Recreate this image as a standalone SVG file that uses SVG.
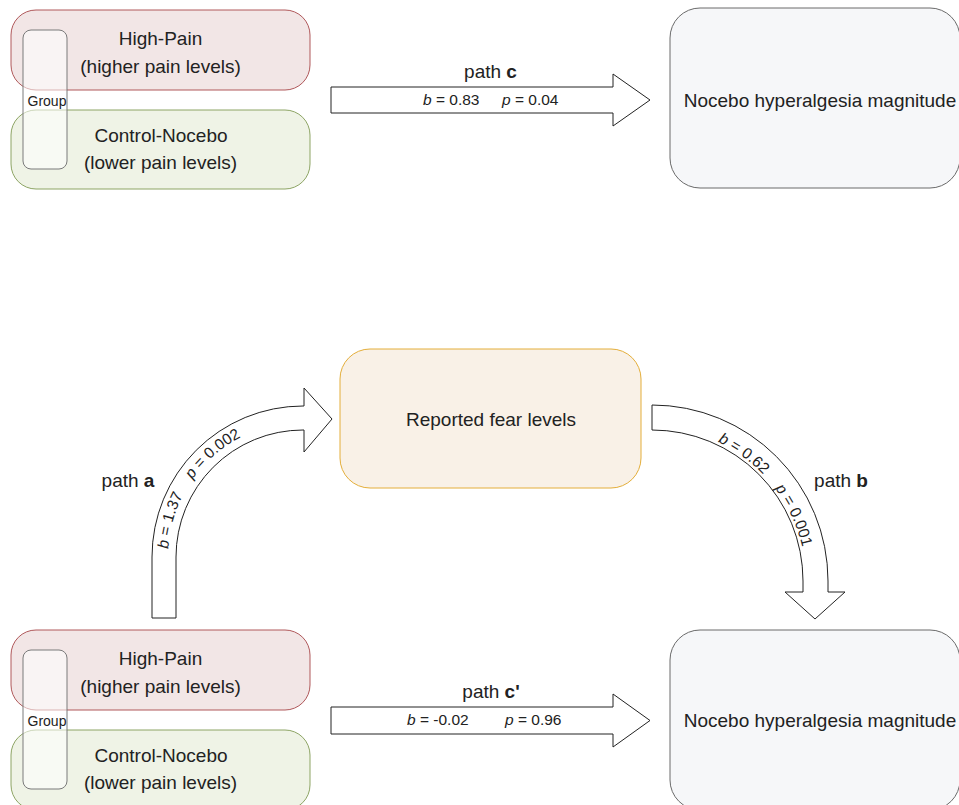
<svg xmlns="http://www.w3.org/2000/svg" width="959" height="805" viewBox="0 0 959 805">
<style>
text{font-family:"Liberation Sans",Arial,sans-serif;fill:#222}
.lbl{font-size:19px;text-anchor:middle}
.sm{font-size:15.5px}
.grp{font-size:14px;text-anchor:middle}
.hp{fill:#f2e6e6;stroke:#b0585a;stroke-width:1}
.cn{fill:#eff3e6;stroke:#8da464;stroke-width:1}
.gb{fill:#ffffff;fill-opacity:0.55;stroke:#7a7a7a;stroke-width:1}
.nh{fill:#f6f7f9;stroke:#6a6a6a;stroke-width:1}
.rf{fill:#f9f1e7;stroke:#e4ae3a;stroke-width:1}
.arr{fill:#ffffff;stroke:#222;stroke-width:1}
.i{font-style:italic}
.b{font-weight:bold}
</style>
<defs>
<path id="arcA" d="M168,557 A135,135 0 0 1 303,422"/>
<path id="arcB" d="M652,427 A154,154 0 0 1 806,581"/>
</defs>

<g id="highpain1">
<rect class="hp" x="11" y="10" width="299" height="80" rx="25"/>
<text class="lbl" x="160.5" y="45">High-Pain</text>
<text class="lbl" x="160.5" y="73">(higher pain levels)</text>
</g>
<g id="control1">
<rect class="cn" x="11" y="110" width="299" height="79" rx="25"/>
<text class="lbl" x="161" y="142">Control-Nocebo</text>
<text class="lbl" x="160.5" y="169">(lower pain levels)</text>
</g>
<g id="group1">
<rect class="gb" x="23" y="30" width="44" height="139" rx="8"/>
<text class="grp" x="47" y="106">Group</text>
</g>
<g id="nocebo1">
<rect class="nh" x="670" y="8" width="290" height="180" rx="30"/>
<text class="lbl" x="820" y="107">Nocebo hyperalgesia magnitude</text>
</g>

<g id="fear">
<rect class="rf" x="340" y="349" width="301" height="139" rx="30"/>
<text class="lbl" x="491" y="426">Reported fear levels</text>
</g>

<g id="highpain2">
<rect class="hp" x="11" y="630" width="299" height="80" rx="25"/>
<text class="lbl" x="160.5" y="665">High-Pain</text>
<text class="lbl" x="160.5" y="693">(higher pain levels)</text>
</g>
<g id="control2">
<rect class="cn" x="11" y="730" width="299" height="80" rx="25"/>
<text class="lbl" x="161" y="762">Control-Nocebo</text>
<text class="lbl" x="160.5" y="789">(lower pain levels)</text>
</g>
<g id="group2">
<rect class="gb" x="23" y="650" width="44" height="139" rx="8"/>
<text class="grp" x="47" y="726">Group</text>
</g>
<g id="nocebo2">
<rect class="nh" x="670" y="630" width="290" height="180" rx="30"/>
<text class="lbl" x="820" y="727">Nocebo hyperalgesia magnitude</text>
</g>

<g id="connectors">
<g id="pathC">
<path class="arr" d="M331,87 L613,87 L613,74 L650,100 L613,126 L613,113 L331,113 Z"/>
<text class="lbl" x="490.5" y="78">path <tspan class="b">c</tspan></text>
<text class="sm" x="423" y="105"><tspan class="i">b</tspan> = 0.83</text>
<text class="sm" x="502" y="105"><tspan class="i">p</tspan> = 0.04</text>
</g>
<g id="pathCprime">
<path class="arr" d="M331,707 L613,707 L613,694 L650,720.5 L613,747 L613,734 L331,734 Z"/>
<text class="lbl" x="491" y="698">path <tspan class="b">c'</tspan></text>
<text class="sm" x="407" y="725"><tspan class="i">b</tspan> = -0.02</text>
<text class="sm" x="505" y="725"><tspan class="i">p</tspan> = 0.96</text>
</g>
<g id="pathA">
<path class="arr" d="M152,618 L152,557 A151,151 0 0 1 303,406 L304,406 L304,388 L332,419 L304,452 L304,430 L303,430 A127,127 0 0 0 176,557 L176,618 Z"/>
<text class="lbl" x="128" y="487">path <tspan class="b">a</tspan></text>
<text class="sm"><textPath href="#arcA" startOffset="8"><tspan class="i">b</tspan> = 1.37<tspan dx="18" class="i">p</tspan> = 0.002</textPath></text>
</g>
<g id="pathB">
<path class="arr" d="M652,405 A176,176 0 0 1 828,581 L828,592 L845,592 L815,619 L785,592 L803,592 L803,581 A151,151 0 0 0 652,430 Z"/>
<text class="lbl" x="841" y="487">path <tspan class="b">b</tspan></text>
<text class="sm"><textPath href="#arcB" startOffset="68"><tspan class="i">b</tspan> = 0.62<tspan dx="18" class="i">p</tspan> = 0.001</textPath></text>
</g>
</g>
</svg>
